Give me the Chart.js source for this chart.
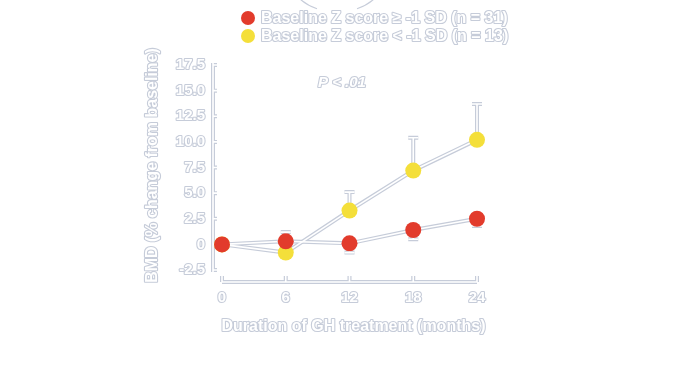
<!DOCTYPE html>
<html>
<head>
<meta charset="utf-8">
<script src="https://cdn.jsdelivr.net/npm/chart.js@4"></script>
<style>
  html, body { margin: 0; padding: 0; background: #fff; }
  #wrap { width: 676px; height: 369px; }
</style>
</head>
<body>
<div id="wrap"><canvas id="bmdChart"></canvas></div>
<script>
// ---- data ----
const months = [0, 6, 12, 18, 24];
const highZ = [0, 0.3, 0.1, 1.4, 2.5];        // baseline Z >= -1 SD
const highZErr = [0, 0.9, -0.9, -0.9, -0.7];  // sign = direction of the bar
const lowZ = [0, -0.8, 3.3, 7.2, 10.2];       // baseline Z < -1 SD
const lowZErr = [0, 0, 1.8, 3.2, 3.5];

const yTicks = [17.5, 15, 12.5, 10, 7.5, 5, 2.5, 0, -2.5];
const yTickLabels = ["17.5", "15.0", "12.5", "10.0", "7.5", "5.0", "2.5", "0", "-2.5"];
const xTicks = [0, 6, 12, 18, 24];

const legendLabels = ["Baseline Z score \u2265 -1 SD (n = 31)", "Baseline Z score < -1 SD (n = 13)"];
const xTitle = "Duration of GH treatment (months)";
const yTitle = "BMD (% change from baseline)";
const pText = "P < .01";

const RED = "#e23b2c";
const YELLOW = "#f4df3a";
const EDGE = "#c6ccd9";
const FONT = "'Liberation Sans', Arial, sans-serif";

function pts(arr) {
  return months.map((m, i) => ({ x: m, y: arr[i] }));
}

// outlined text, white fill with grey edge
function oText(ctx, txt, x, y, font) {
  ctx.font = font;
  ctx.lineJoin = "round";
  ctx.strokeStyle = EDGE;
  ctx.lineWidth = 2.2;
  ctx.strokeText(txt, x, y);
  ctx.fillStyle = "#fff";
  ctx.fillText(txt, x, y);
}

// outlined line path
function oLine(ctx, segs) {
  [[EDGE, 4], ["#fff", 1.6]].forEach(([c, w]) => {
    ctx.strokeStyle = c;
    ctx.lineWidth = w;
    ctx.lineCap = "butt";
    ctx.beginPath();
    segs.forEach(s => {
      ctx.moveTo(s[0], s[1]);
      for (let k = 2; k < s.length; k += 2) ctx.lineTo(s[k], s[k + 1]);
    });
    ctx.stroke();
  });
}

const decorPlugin = {
  id: "decor",
  beforeDatasetsDraw(chart) {
    const { ctx, chartArea, scales } = chart;
    const xs = scales.x, ys = scales.y;
    ctx.save();

    // y axis (offset left) with inward ticks
    const ax = chartArea.left - 9;
    const segs = [[ax, ys.getPixelForValue(17.5) - 2, ax, ys.getPixelForValue(-2.5) + 2]];
    yTicks.forEach(v => {
      const py = ys.getPixelForValue(v);
      segs.push([ax, py, ax + 4, py]);
    });
    // x axis (offset down) with upward ticks
    const ay = chartArea.bottom + 12;
    segs.push([xs.getPixelForValue(0), ay, xs.getPixelForValue(24), ay]);
    xTicks.forEach(v => {
      const px = xs.getPixelForValue(v);
      segs.push([px, ay, px, ay - 6]);
    });
    oLine(ctx, segs);

    // error bars
    const bars = [];
    [[lowZ, lowZErr], [highZ, highZErr]].forEach(([vals, errs]) => {
      months.forEach((m, i) => {
        if (!errs[i]) return;
        const px = xs.getPixelForValue(m);
        const y0 = ys.getPixelForValue(vals[i]);
        const y1 = ys.getPixelForValue(vals[i] + errs[i]);
        bars.push([px, y0, px, y1]);
        bars.push([px - 5, y1, px + 5, y1]);
      });
    });
    oLine(ctx, bars);
    ctx.restore();
  },
  afterDraw(chart) {
    const { ctx, chartArea, scales } = chart;
    const xs = scales.x, ys = scales.y;
    ctx.save();
    const f = "bold 15px " + FONT;

    // y tick labels
    ctx.textAlign = "right";
    ctx.textBaseline = "middle";
    yTicks.forEach((v, i) => oText(ctx, yTickLabels[i], chartArea.left - 17, ys.getPixelForValue(v), f));

    // x tick labels
    ctx.textAlign = "center";
    ctx.textBaseline = "middle";
    xTicks.forEach(v => oText(ctx, String(v), xs.getPixelForValue(v), chartArea.bottom + 28, f));

    // x title
    oText(ctx, xTitle, (chartArea.left + chartArea.right) / 2 + 4, chartArea.bottom + 57, "bold 16px " + FONT);

    // y title
    ctx.save();
    ctx.translate(153, (chartArea.top + chartArea.bottom) / 2 - 2);
    ctx.rotate(-Math.PI / 2);
    oText(ctx, yTitle, 0, 0, "bold 16px " + FONT);
    ctx.restore();

    // P value
    ctx.textAlign = "left";
    oText(ctx, pText, 318, 83, "italic bold 15px " + FONT);

    // legend
    const colors = [RED, YELLOW];
    legendLabels.forEach((lab, i) => {
      const cy = 18 + i * 18;
      ctx.beginPath();
      ctx.arc(248, cy, 7, 0, Math.PI * 2);
      ctx.fillStyle = colors[i];
      ctx.fill();
      ctx.textAlign = "left";
      oText(ctx, lab, 261, cy + 1, "bold 16px " + FONT);
    });

    // clipped arc at the top
    ctx.strokeStyle = EDGE;
    ctx.lineWidth = 1.2;
    ctx.beginPath();
    ctx.ellipse(337, -22, 47, 34, 0, Math.PI * 0.18, Math.PI * 0.36);
    ctx.stroke();
    ctx.beginPath();
    ctx.ellipse(337, -22, 47, 34, 0, Math.PI * 0.64, Math.PI * 0.82);
    ctx.stroke();
    ctx.restore();
  }
};

function lineSet(data, order, color, isCore) {
  return {
    data: pts(data),
    order: order,
    clip: false,
    borderColor: isCore ? "#fff" : EDGE,
    borderWidth: isCore ? 1.6 : 4,
    pointRadius: isCore ? 8 : 0,
    pointBackgroundColor: color,
    pointBorderColor: color,
    pointBorderWidth: 0,
    tension: 0,
    fill: false
  };
}

new Chart(document.getElementById("bmdChart"), {
  type: "line",
  data: {
    datasets: [
      lineSet(highZ, 1, RED, true),
      lineSet(lowZ, 2, YELLOW, true),
      lineSet(highZ, 3, RED, false),
      lineSet(lowZ, 4, YELLOW, false)
    ]
  },
  plugins: [decorPlugin],
  options: {
    responsive: true,
    maintainAspectRatio: false,
    animation: false,
    layout: { padding: { left: 222, right: 199, top: 65, bottom: 99 } },
    plugins: { legend: { display: false }, tooltip: { enabled: false } },
    scales: {
      x: { type: "linear", min: 0, max: 24, display: false },
      y: { min: -2.5, max: 17.5, display: false }
    }
  }
});
</script>
</body>
</html>
